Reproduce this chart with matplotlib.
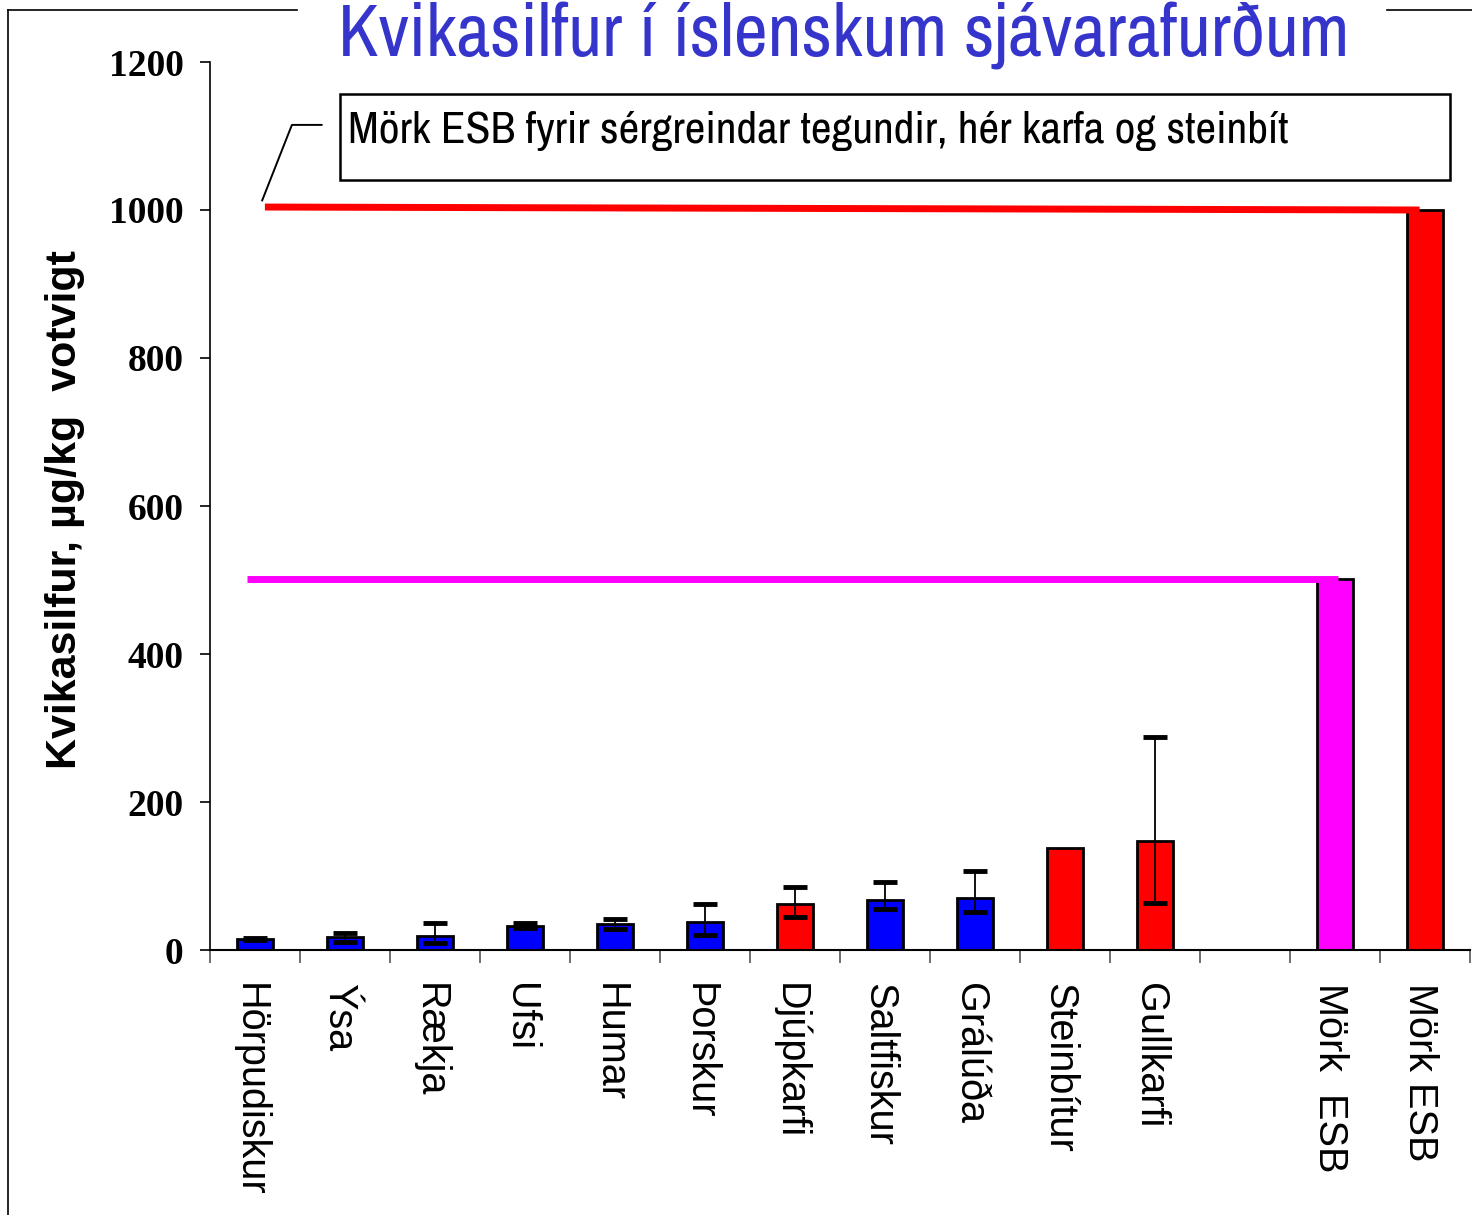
import matplotlib
matplotlib.use('Agg')
import matplotlib.pyplot as plt
from matplotlib.lines import Line2D
from matplotlib.patches import Rectangle
from matplotlib import font_manager
import numpy as np

# Data
categories = ['Hörpudiskur', 'Ýsa', 'Rækja', 'Ufsi', 'Humar', 'Þorskur', 'Djúpkarfi',
              'Saltfiskur', 'Grálúða', 'Steinbítur', 'Gullkarfi', '', 'Mörk  ESB', 'Mörk ESB']
values = [15, 18, 19, 32, 35, 38, 62, 68, 70, 138, 147, np.nan, 501, 1000]
err_low = [13, 11, 9, 30, 28, 20, 45, 55, 51, np.nan, 64, np.nan, np.nan, np.nan]
err_high = [16, 23, 36, 36, 42, 62, 85, 92, 107, np.nan, 288, np.nan, np.nan, np.nan]
bar_colors = ['#0000ff'] * 6 + ['#ff0000', '#0000ff', '#0000ff', '#ff0000', '#ff0000',
                                 '#ffffff', '#ff00ff', '#ff0000']

# limit lines: (x start, x end, y start, y end, colour)
limit_lines = [(-0.09, 12.03, 502, 502, '#ff00ff'),
               (0.11, 12.94, 1004, 1000, '#ff0000')]

title = 'Kvikasilfur í íslenskum sjávarafurðum'
note = 'Mörk ESB fyrir sérgreindar tegundir, hér karfa og steinbít'
ylabel = 'Kvikasilfur, µg/kg  votvigt'

# narrow sans for title and note, shrink if only a normal width font is there
names = {f.name for f in font_manager.fontManager.ttflist}
narrow, shrink = 'Liberation Sans', 0.8
for cand in ['Archivo Narrow', 'Liberation Sans Narrow', 'Roboto Condensed']:
    if cand in names:
        narrow, shrink = cand, 1.0
        break

fig = plt.figure(figsize=(14.72, 12.15), dpi=100)
ax = fig.add_axes([210 / 1472, 265 / 1215, 1260 / 1472, 888 / 1215])

x = np.arange(len(categories))
ax.bar(x, values, width=0.41, color=bar_colors, edgecolor='black', linewidth=2, zorder=2)

idx = [i for i in range(len(values)) if not np.isnan(err_low[i])]
yv = np.array([values[i] for i in idx])
lo = yv - np.array([err_low[i] for i in idx])
hi = np.array([err_high[i] for i in idx]) - yv
ax.errorbar(x[idx], yv, yerr=[lo, hi], fmt='none', ecolor='black', elinewidth=1.3,
            capsize=8.5, capthick=3.5, zorder=3)

for x0, x1, y0, y1, c in limit_lines:
    ax.plot([x0, x1], [y0, y1], color=c, linewidth=5, solid_capstyle='butt', zorder=4)

ax.set_xlim(-0.5, len(categories) - 0.5)
ax.set_ylim(0, 1200)
ax.set_yticks(range(0, 1201, 200))
ax.set_yticklabels([str(v) for v in range(0, 1201, 200)], fontfamily='Liberation Serif',
                   fontweight='bold', fontsize=27)
ax.tick_params(axis='y', length=7, width=1.2, pad=12)

ax.set_xticks(np.arange(-0.5, len(categories), 1.0))
ax.set_xticklabels([])
ax.tick_params(axis='x', which='major', length=9, width=1.2, color='#555555')
ax.set_xticks(x - 0.06, minor=True)
ax.set_xticklabels(categories, minor=True, rotation=270, fontfamily='Liberation Sans',
                   fontsize=28.5, va='top', ha='center')
ax.tick_params(axis='x', which='minor', length=0, pad=24)

for s in ['top', 'right']:
    ax.spines[s].set_visible(False)
ax.spines['left'].set_linewidth(1.2)
ax.spines['bottom'].set_linewidth(1.5)

# leader line from the limit line to the note box
ax.plot([0.08, 0.41, 0.74], [1013, 1115, 1115], color='black', linewidth=1.4, clip_on=False)

fig.add_artist(Rectangle((340 / 1472, 1035 / 1215), 1110 / 1472, 86 / 1215,
                         transform=fig.transFigure, fill=False, edgecolor='black', linewidth=1.8))
fig.text(348 / 1472, 1072 / 1215, note, family=[narrow, 'DejaVu Sans'], fontsize=32.6 * shrink,
         va='baseline', ha='left')

fig.text(338 / 1472, 1159 / 1215, title, family=[narrow, 'DejaVu Sans'], fontsize=53.3 * shrink,
         color='#3535cc', va='baseline', ha='left')

fig.text(65 / 1472, 705 / 1215, ylabel, family='Liberation Sans', fontweight='bold',
         fontsize=31, rotation=90, ha='center', va='center')

# slide frame
fig.add_artist(Line2D([8 / 1472, 297 / 1472], [1205 / 1215, 1205 / 1215], color='black', linewidth=1.2))
fig.add_artist(Line2D([1387 / 1472, 1.0], [1205 / 1215, 1205 / 1215], color='black', linewidth=1.2))
fig.add_artist(Line2D([8 / 1472, 8 / 1472], [0, 1205 / 1215], color='black', linewidth=1.2))

fig.savefig('out.png', dpi=100)
